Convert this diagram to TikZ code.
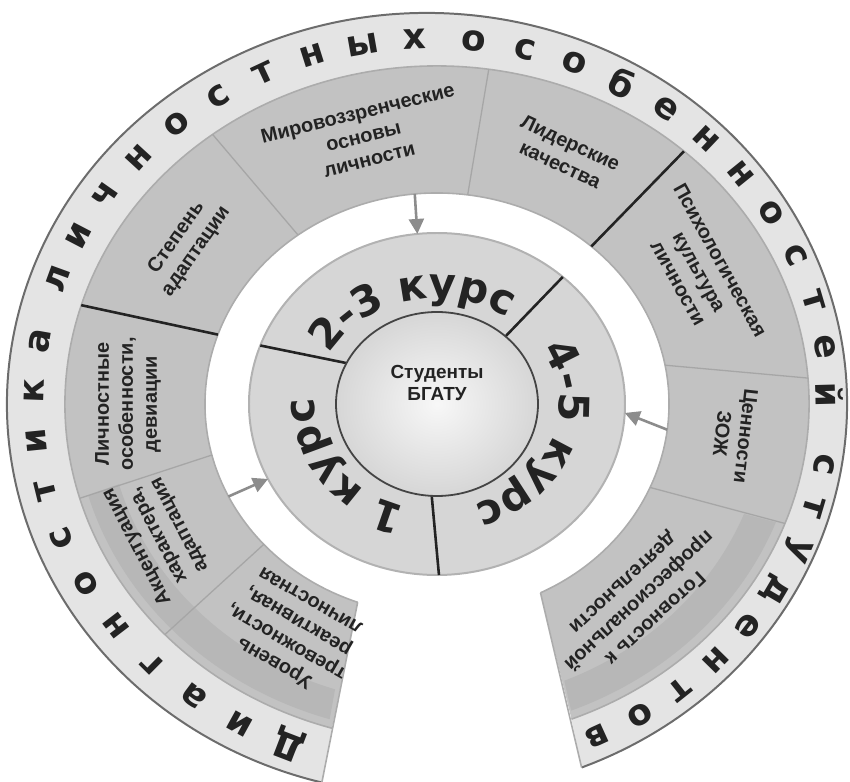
\documentclass[tikz,border=0pt]{standalone}
\usepackage{fontspec}
\setmainfont{Liberation Sans}
\newfontfamily\ringfont{DejaVu Sans}
\usepackage{tikz}
\usetikzlibrary{arrows.meta,calc,decorations.text}
\newcommand{\coursefont}{\ringfont\bfseries\fontsize{42}{42}\selectfont}
\definecolor{ringgray}{RGB}{228, 228, 228}
\definecolor{topicgray}{RGB}{194, 194, 194}
\definecolor{bandgray}{RGB}{183, 183, 183}
\definecolor{coursegray}{RGB}{214, 214, 214}
\definecolor{ink}{RGB}{35, 35, 35}
\tikzstyle{ringletter} = [font=\ringfont\bfseries\fontsize{36}{36}\selectfont, text=ink, inner sep=0pt]
\tikzstyle{topic} = [font=\bfseries\fontsize{20}{24}\selectfont, text=ink, align=center, inner sep=0pt]
\tikzstyle{hubtext} = [font=\bfseries\fontsize{19}{23}\selectfont, text=ink, align=center]
\tikzstyle{courselabel} = [decorate, decoration={text along path, text align=center, text color=ink}]
\tikzstyle{darksep} = [draw=ink, line width=2.6pt]
\tikzstyle{lightsep} = [draw=gray!70, line width=1.3pt]
\tikzstyle{softedge} = [draw=gray!65, line width=1.6pt]
\tikzstyle{ringedge} = [draw=gray!85!black, line width=2pt]
\tikzstyle{feed} = [draw=gray!90, line width=2.6pt, >={Triangle[length=15bp, width=15bp]}, ->]

\begin{document}
\begin{tikzpicture}[x=1bp, y=1bp]
\useasboundingbox (-437,-378) rectangle (413,404);

\coordinate (c) at (0,0);
\coordinate (oc) at (-10,0);
\coordinate (tc) at (-5,0);

% ends of the open ring
\coordinate (L-out) at ($(oc)+(255.5:420 and 391)$);
\coordinate (L-mid) at (253.6:372 and 338);
\coordinate (L-in) at (250:232 and 211);
\coordinate (R-out) at ($(oc)+(-68.4:420 and 391)$);
\coordinate (R-mid) at (-68.8:372 and 338);
\coordinate (R-in) at (-63.5:232 and 211);

% title ring =============================
\fill[ringgray] (L-out) arc[start angle=255.5, end angle=-68.4, x radius=420, y radius=391] -- (R-mid) arc[start angle=-68.8, end angle=253.6, x radius=372, y radius=338] -- cycle;

% topic ring =============================
\fill[topicgray] (L-mid) arc[start angle=253.6, end angle=-68.8, x radius=372, y radius=338] -- (R-in) arc[start angle=-63.5, end angle=250, x radius=232, y radius=211] -- cycle;
% darker print band on the two arms
\fill[bandgray] (252.8:363 and 330) arc[start angle=252.8, end angle=196, x radius=363, y radius=330] -- (195.5:330 and 300) arc[start angle=195.5, end angle=252, x radius=330, y radius=300] -- cycle;
\fill[bandgray] (-68.3:363 and 330) arc[start angle=-68.3, end angle=-21, x radius=363, y radius=330] -- (-21.5:330 and 300) arc[start angle=-21.5, end angle=-67.3, x radius=330, y radius=300] -- cycle;

% edges
\draw[ringedge] (L-out) arc[start angle=255.5, end angle=-68.4, x radius=420, y radius=391];
\draw[softedge] (L-mid) arc[start angle=253.6, end angle=-68.8, x radius=372, y radius=338];
\draw[softedge] (R-in) arc[start angle=-63.5, end angle=250, x radius=232, y radius=211];
\draw[softedge] (L-in) -- (L-out);
\draw[softedge] (R-in) -- (R-out);

% separators
\foreach \ai/\ao in {221.7/223, 194/196.2, 126.8/127.1, 82.4/82, 10.6/4.4, -23.3/-20.7}
  \draw[lightsep] (\ai:232 and 211) -- (\ao:372 and 338);
\foreach \ai/\ao in {160.8/163, 48.3/48.4}
  \draw[darksep] (\ai:232 and 211) -- (\ao:372 and 338);

% courses =============================
\filldraw[fill=coursegray, draw=gray!60, line width=2pt] (c) ellipse [x radius=188, y radius=171];
\foreach \ai/\ao in {153.6/160, 47.3/48, -93/-89.4}
  \draw[darksep] (\ai:101 and 92) -- (\ao:188 and 171);
\shadedraw[inner color=gray!6, outer color=gray!32, draw=ink!85, line width=1.8pt] (c) ellipse [x radius=101, y radius=92];
\node[hubtext] (students) at (0,21) {Студенты\\БГАТУ};

\path[courselabel, decoration={text={|\coursefont|2-3 курс}}] (174:122 and 106) arc[start angle=174, end angle=34, x radius=122, y radius=106];
\path[courselabel, decoration={text={|\coursefont|4-5 курс}}] (50:122 and 106) arc[start angle=50, end angle=-90, x radius=122, y radius=106];
\path[courselabel, decoration={text={|\coursefont|1 курс}}] (284:122 and 106) arc[start angle=284, end angle=144, x radius=122, y radius=106];

% topics
\node[topic, rotate=150] (anxiety) at (240:290 and 264) {Уровень\\тревожности,\\реактивная,\\личностная};
\node[topic, rotate=117.5] (accent) at (207.5:314 and 285) {Акцентуация\\характера,\\адаптация};
\node[topic, rotate=90] (traits) at (180:309 and 281) {Личностные\\особенности,\\девиации};
\node[topic, rotate=55] (adapt) at (145:306 and 278) {Степень\\адаптации};
\node[topic, rotate=14] (worldview) at (104:304 and 276) {Мировоззренческие\\основы\\личности};
\node[topic, rotate=-25] (leader) at (65:304 and 276) {Лидерские\\качества};
\node[topic, rotate=-61] (psych) at (29:300 and 273) {Психологическая\\культура\\личности};
\node[topic, rotate=-96.5] (health) at (-6.5:299 and 272) {Ценности\\ЗОЖ};
\node[topic, rotate=-137] (career) at (-47:295 and 268) {Готовность к\\профессиональной\\деятельности};

% arrows into the course ring
\coordinate (top-from) at (95.5:232 and 211);
\coordinate (top-to) at (96:188 and 171);
\coordinate (left-from) at (206:232 and 211);
\coordinate (left-to) at (206:188 and 171);
\coordinate (right-from) at (-7:232 and 211);
\coordinate (right-to) at (-3:188 and 171);
\draw[feed] (top-from) -- (top-to);
\draw[feed] (left-from) -- (left-to);
\draw[feed] (right-from) -- (right-to);

% title letters
\foreach \ch [count=\i from 0] in {Д,и,а,г,н,о,с,т,и,к,а}
  \node[ringletter, rotate={159-\i*7.9}] (diag-\i) at ($(tc)+({249-\i*7.9}:398 and 365)$) {\ch};
\foreach \ch [count=\i from 0] in {л,и,ч,н,о,с,т,н,ы,х}
  \node[ringletter, rotate={70-\i*7.5}] (pers-\i) at ($(tc)+({160-\i*7.5}:398 and 365)$) {\ch};
\foreach \ch [count=\i from 0] in {о,с,о,б,е,н,н,о,с,т,е,й}
  \node[ringletter, rotate={-6-\i*7.5}] (feat-\i) at ($(tc)+({84-\i*7.5}:398 and 365)$) {\ch};
\foreach \ch [count=\i from 0] in {с,т,у,д,е,н,т,о,в}
  \node[ringletter, rotate={-99.5-\i*7}] (stud-\i) at ($(tc)+({-9.5-\i*7}:398 and 365)$) {\ch};

\end{tikzpicture}
\end{document}
